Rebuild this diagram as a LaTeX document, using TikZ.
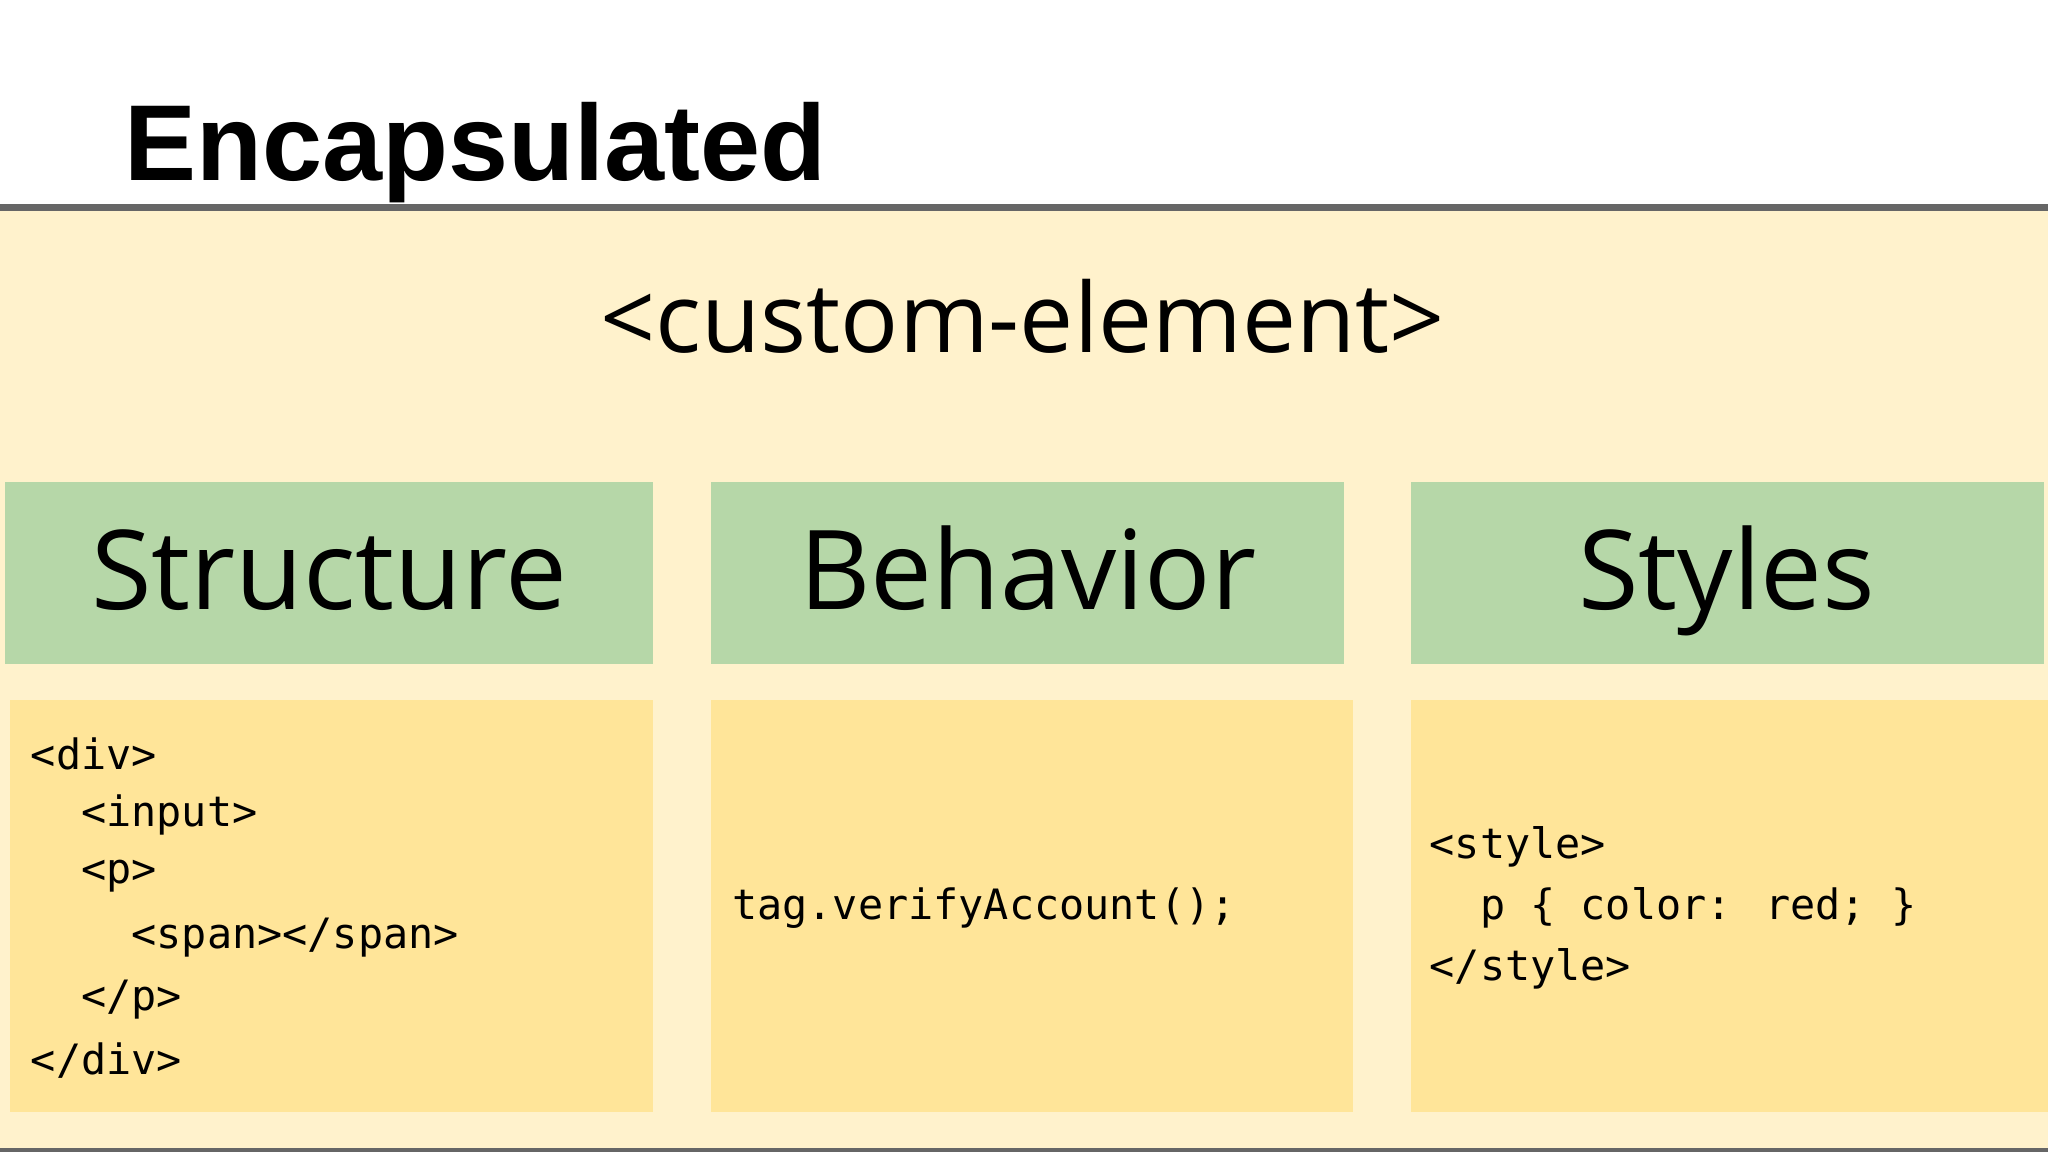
\documentclass[tikz,border=0pt]{standalone}
\usepackage{fontspec}
\setmainfont{Liberation Sans}
\newfontfamily\osans{Open Sans}
\newfontfamily\mono{DejaVu Sans Mono}
\definecolor{cream}{HTML}{FFF2CC}
\definecolor{grn}{HTML}{B6D7A8}
\definecolor{ylw}{HTML}{FFE599}
\definecolor{rule}{HTML}{666666}
\begin{document}
\begin{tikzpicture}[x=0.01cm,y=-0.01cm,
  head/.style={font=\osans\fontsize{24}{28}\selectfont,text=black},
  code/.style={font=\mono\fontsize{9.1}{13.3}\selectfont,align=left,anchor=west,inner sep=0pt}]
\useasboundingbox (0,0) rectangle (1568,882);
\fill[white] (0,0) rectangle (1568,882);
\fill[cream] (0,160) rectangle (1568,880);
\draw[rule,line width=1.5pt] (0,159) -- (1568,159);
\draw[rule,line width=1pt] (0,881) -- (1568,881);
\node[anchor=base west,inner sep=0pt,font=\bfseries\fontsize{23.5}{28}\selectfont] (title) at (95,138) {Encapsulated};
\node[anchor=base,inner sep=0pt,font=\osans\fontsize{21}{26}\selectfont] (ce) at (783,270) {<custom-element>};
\fill[grn] (4,369) rectangle (500,508);
\fill[grn] (544,369) rectangle (1029,508);
\fill[grn] (1080,369) rectangle (1565,508);
\node[head,anchor=base,inner sep=0pt] (s) at (252,467) {Structure};
\node[head,anchor=base,inner sep=0pt] (b) at (787,467) {Behavior};
\node[head,anchor=base,inner sep=0pt] (st) at (1322,467) {Styles};
\fill[ylw] (8,536) rectangle (500,851);
\fill[ylw] (544,536) rectangle (1036,851);
\fill[ylw] (1080,536) rectangle (1568,851);
\node[code] (c1) at (23,577) {<div>};
\node[code] (c2) at (23,624) {\phantom{aa}<input>};
\node[code] (c3) at (23,671) {\phantom{aa}<p>};
\node[code] (c4) at (23,718) {\phantom{aaaa}<span></span>};
\node[code] (c5) at (23,765) {\phantom{aa}</p>};
\node[code] (c6) at (23,812) {</div>};
\node[code] (bh) at (560,695) {tag.verifyAccount();};
\node[code] (y1) at (1094,648) {<style>};
\node[code] (y2) at (1094,695) {\phantom{aa}p \{ color: red; \}};
\node[code] (y3) at (1094,742) {</style>};
\end{tikzpicture}
\end{document}
